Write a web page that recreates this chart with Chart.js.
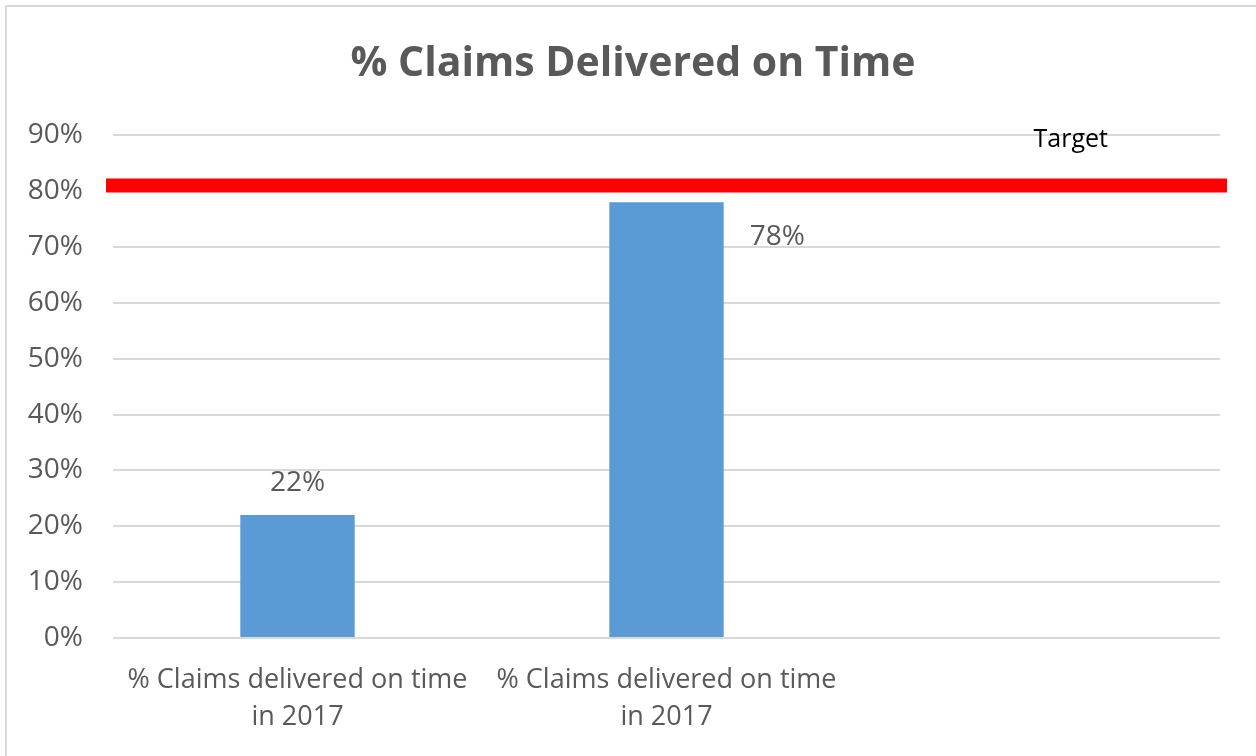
<!DOCTYPE html>
<html>
<head>
<meta charset="utf-8">
<script src="https://cdn.jsdelivr.net/npm/chart.js@4.4.0/dist/chart.umd.min.js"></script>
<style>
	html, body { margin: 0; padding: 0; background: #ffffff; }
	#wrap { width: 1256px; height: 756px; }
</style>
</head>
<body>
<div id="wrap"><canvas id="myChart" width="1256" height="756"></canvas></div>
<script>
// Valeurs du graphique
const categories = [
	['% Claims delivered on time', 'in 2017'],
	['% Claims delivered on time', 'in 2017'],
	''
];
const claimsValues = [22, 78, null];
const targetValue = 81;
const targetLabel = 'Target';
const yTicks = [0, 10, 20, 30, 40, 50, 60, 70, 80, 90];

const police = "'Open Sans', 'DejaVu Sans', sans-serif";

// cadre gris autour du graphique
const cadrePlugin = {
	id: 'cadre',
	beforeDraw: function(chart) {
		var ctx = chart.ctx;
		ctx.save();
		ctx.fillStyle = '#ffffff';
		ctx.fillRect(0, 0, chart.width, chart.height);
		ctx.strokeStyle = '#d9d9d9';
		ctx.lineWidth = 2;
		ctx.strokeRect(6, 6, chart.width + 20, chart.height + 20);
		ctx.restore();
	}
};

// etiquettes des barres et de la cible
const etiquettesPlugin = {
	id: 'etiquettes',
	afterDatasetsDraw: function(chart) {
		var ctx = chart.ctx;
		var yScale = chart.scales.y;
		var yCible = yScale.getPixelForValue(targetValue);
		ctx.save();
		ctx.font = '28px ' + police;
		ctx.fillStyle = '#595959';
		ctx.textBaseline = 'middle';

		chart.getDatasetMeta(0).data.forEach(function(bar, i) {
			var v = claimsValues[i];
			if (v === null) return;
			var texte = v + '%';
			var yLabel = bar.y - 32;
			if (yLabel - 15 < yCible + 10) {
				// trop proche de la cible : a droite de la barre
				ctx.textAlign = 'left';
				ctx.fillText(texte, bar.x + bar.width / 2 + 26, bar.y + 35);
			} else {
				ctx.textAlign = 'center';
				ctx.fillText(texte, bar.x, yLabel);
			}
		});

		// libelle "Target"
		var pts = chart.getDatasetMeta(1).data;
		var fin = pts[pts.length - 1];
		ctx.font = '25px ' + police;
		ctx.fillStyle = '#000000';
		ctx.textAlign = 'right';
		ctx.fillText(targetLabel, fin.x - 112, fin.y - 46);
		ctx.restore();
	}
};

var ctx = document.getElementById('myChart').getContext('2d');

var chart = new Chart(ctx, {
	type: 'bar',
	data: {
		labels: categories,
		datasets: [
		{
			data: claimsValues,
			backgroundColor: '#5b9bd5',
			borderWidth: 0,
			grouped: false,
			categoryPercentage: 1,
			barPercentage: 0.31,
			order: 2
		},
		{
			type: 'line',
			data: [{x: 0, y: targetValue}, {x: 1, y: targetValue}],
			xAxisID: 'xt',
			borderColor: '#ff0000',
			borderWidth: 14,
			borderCapStyle: 'square',
			pointRadius: 0,
			fill: false,
			clip: false,
			order: 1
		}]
	},
	options: {
		responsive: false,
		animation: false,
		layout: {
			padding: {left: 10, right: 0, top: 0, bottom: 0}
		},
		scales: {
			x: {
				grid: { display: false, drawTicks: false },
				border: { display: false },
				ticks: {
					color: '#595959',
					font: { family: police, size: 27, lineHeight: 1.4 },
					padding: 23,
					maxRotation: 0,
					autoSkip: false
				},
				afterFit: function(scale) { scale.height = 118; }
			},
			xt: {
				type: 'linear',
				display: false,
				offset: false,
				min: 0,
				max: 1
			},
			y: {
				min: 0,
				max: 90,
				afterBuildTicks: function(scale) {
					scale.ticks = yTicks.map(function(v) { return {value: v}; });
				},
				grid: {
					color: '#d9d9d9',
					lineWidth: 2,
					drawTicks: false
				},
				border: { display: false },
				ticks: {
					color: '#595959',
					font: { family: police, size: 28 },
					padding: 30,
					callback: function(value) { return value + '%'; }
				},
				afterFit: function(scale) { scale.width = 103; }
			},
			// axe vide a droite, pour la marge
			y2: {
				position: 'right',
				min: 0,
				max: 90,
				grid: { display: false, drawTicks: false },
				border: { display: false },
				ticks: { display: false },
				afterFit: function(scale) { scale.width = 36; }
			}
		},
		plugins: {
			legend: { display: false },
			tooltip: { enabled: false },
			title: {
				display: true,
				text: '% Claims Delivered on Time',
				color: '#595959',
				font: { family: police, size: 41, weight: 'bold', lineHeight: 1.2 },
				padding: { top: 40, bottom: 46 }
			}
		}
	},
	plugins: [cadrePlugin, etiquettesPlugin]
});
</script>
</body>
</html>
